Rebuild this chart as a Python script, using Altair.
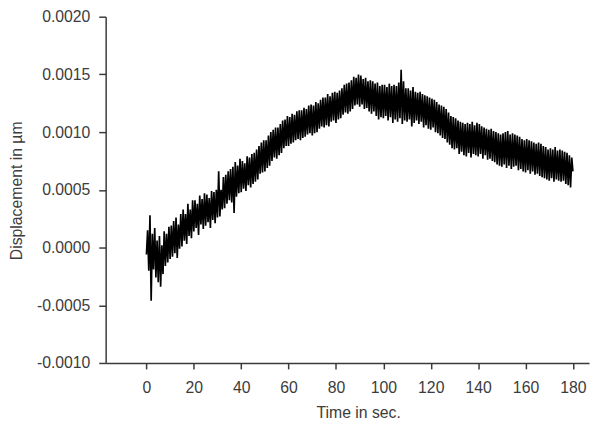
import altair as alt
import pandas as pd

# Displacement readings in units of 1e-4 µm, sampled every 0.5 s from t = 0 to 180 s
disp_e4 = [
    -0.6, 1.5, -2.0, 2.8, -4.6, 1.2, -1.9, 1.7, -2.6, 0.6,
    -3.0, 1.0, -3.4, 0.2, -2.3, 1.4, -1.6, 1.2, -1.3, 1.8,
    -1.0, 1.9, -0.8, 2.3, -0.5, 2.6, -0.9, 2.0, -0.1, 2.9,
    0.1, 3.3, 0.6, 2.9, 0.3, 3.8, 1.0, 3.3, 0.8, 4.1,
    1.4, 4.1, 1.7, 3.8, 1.1, 4.5, 2.0, 4.2, 1.6, 4.7,
    1.9, 4.6, 2.2, 4.3, 1.7, 4.9, 2.4, 4.8, 2.1, 5.0,
    2.6, 6.6, 2.7, 5.0, 3.3, 6.1, 3.4, 6.3, 3.8, 6.6,
    4.1, 6.8, 3.9, 7.0, 3.0, 7.4, 4.4, 7.1, 4.7, 7.7,
    4.8, 7.5, 5.1, 7.3, 4.9, 7.9, 5.4, 7.8, 5.2, 8.1,
    5.5, 8.2, 5.7, 8.5, 5.9, 8.8, 6.4, 9.1, 6.5, 9.3,
    6.6, 9.3, 6.9, 9.7, 7.1, 10.0, 7.5, 10.2, 7.8, 10.4,
    7.7, 10.4, 8.0, 10.7, 8.2, 11.0, 8.6, 11.1, 8.8, 11.4,
    8.8, 11.3, 9.0, 11.6, 9.1, 11.5, 9.3, 11.8, 9.4, 11.9,
    9.3, 11.9, 9.5, 12.1, 9.6, 12.0, 9.8, 12.3, 9.9, 12.4,
    9.7, 12.3, 9.9, 12.6, 10.0, 12.5, 10.3, 12.8, 10.5, 13.0,
    10.4, 13.0, 10.6, 13.3, 10.5, 13.1, 10.9, 13.4, 11.0, 13.5,
    10.8, 13.4, 11.1, 13.6, 11.2, 13.8, 11.5, 14.1, 11.7, 14.2,
    11.6, 14.3, 11.8, 14.5, 12.0, 14.8, 12.3, 14.7, 12.4, 15.0,
    12.2, 14.9, 12.4, 14.6, 12.0, 14.7, 12.1, 14.4, 11.8, 14.5,
    11.6, 14.4, 11.8, 14.2, 11.4, 14.3, 11.1, 14.0, 11.3, 14.1,
    11.2, 14.1, 11.4, 13.9, 11.0, 14.2, 11.3, 14.0, 10.8, 14.1,
    11.1, 14.0, 10.9, 14.3, 11.2, 15.4, 10.7, 14.4, 11.0, 13.8,
    10.9, 13.8, 11.1, 13.6, 10.5, 13.9, 10.8, 13.5, 11.0, 13.4,
    10.7, 13.5, 10.9, 13.3, 10.4, 13.2, 10.6, 13.1, 10.3, 13.0,
    10.2, 12.9, 10.4, 12.8, 10.0, 12.6, 9.9, 12.4, 9.7, 12.3,
    9.5, 12.2, 9.4, 12.0, 9.1, 11.7, 8.9, 11.4, 8.6, 11.3,
    8.5, 11.2, 8.6, 11.0, 8.1, 10.9, 8.3, 10.8, 8.0, 10.7,
    7.9, 10.8, 8.2, 10.7, 7.8, 10.9, 8.1, 10.6, 8.0, 10.8,
    7.9, 10.7, 8.1, 10.5, 7.7, 10.4, 8.0, 10.3, 7.6, 10.2,
    7.7, 10.3, 7.5, 10.1, 7.4, 10.0, 7.2, 9.9, 7.1, 9.8,
    7.0, 9.9, 7.2, 10.0, 6.9, 10.1, 7.1, 9.8, 6.8, 9.9,
    7.0, 9.8, 7.1, 9.7, 6.7, 9.6, 6.8, 9.4, 6.6, 9.3,
    6.5, 9.4, 6.7, 9.3, 6.4, 9.2, 6.6, 9.1, 6.3, 9.0,
    6.4, 9.1, 6.2, 9.0, 6.1, 8.8, 6.0, 8.7, 5.9, 8.5,
    5.8, 8.6, 6.0, 8.5, 5.7, 8.7, 5.9, 8.4, 5.8, 8.5,
    5.7, 8.4, 5.8, 8.3, 5.5, 8.2, 5.4, 8.0, 5.2, 7.8,
    6.6,
]
sample_step_s = 0.5

x_ticks = [0, 20, 40, 60, 80, 100, 120, 140, 160, 180]
y_ticks = [-0.0010, -0.0005, 0.0000, 0.0005, 0.0010, 0.0015, 0.0020]

df = pd.DataFrame({
    "time": [i * sample_step_s for i in range(len(disp_e4))],
    "disp": [v * 1e-4 for v in disp_e4],
})

FONT = "Liberation Sans"
AX_COLOR = "#3a3a3a"
LABEL_COLOR = "#3c3c3c"

chart = alt.Chart(df).mark_line(color="black", strokeWidth=1.7).encode(
    x=alt.X(
        "time:Q",
        scale=alt.Scale(domain=[-17.2, 186.8], nice=False, zero=False),
        axis=alt.Axis(
            title="Time in sec.",
            values=x_ticks,
            grid=False,
            domainColor=AX_COLOR,
            domainWidth=1.5,
            tickColor=AX_COLOR,
            tickWidth=1.5,
            tickSize=6,
            labelPadding=11,
            labelFont=FONT,
            labelFontSize=16,
            labelColor=LABEL_COLOR,
            titleFont=FONT,
            titleFontSize=16,
            titleFontWeight="normal",
            titleColor=LABEL_COLOR,
            titleBaseline="alphabetic",
            titleX=256,
            titleY=55,
            titleAlign="center",
        ),
    ),
    y=alt.Y(
        "disp:Q",
        scale=alt.Scale(domain=[-0.001, 0.002], nice=False, zero=False),
        axis=alt.Axis(
            title="Displacement in µm",
            values=y_ticks,
            labelExpr="replace(format(datum.value, '.4f'), '\u2212', '-')",
            grid=False,
            domainColor=AX_COLOR,
            domainWidth=1.5,
            tickColor=AX_COLOR,
            tickWidth=1.5,
            tickSize=7,
            labelPadding=9,
            labelFont=FONT,
            labelFontSize=16,
            labelColor=LABEL_COLOR,
            titleFont=FONT,
            titleFontSize=16,
            titleFontWeight="normal",
            titleColor=LABEL_COLOR,
            titleBaseline="alphabetic",
            titleX=-85,
            titleY=176,
            titleAlign="center",
            titleAngle=270,
        ),
    ),
).properties(
    width=490,
    height=351,
    padding={"left": 99, "top": 6, "right": 3, "bottom": 56},
    autosize=alt.AutoSizeParams(type="none"),
).configure_view(stroke=None)

chart.save("out.html", embed_options={"renderer": "svg", "actions": False})
